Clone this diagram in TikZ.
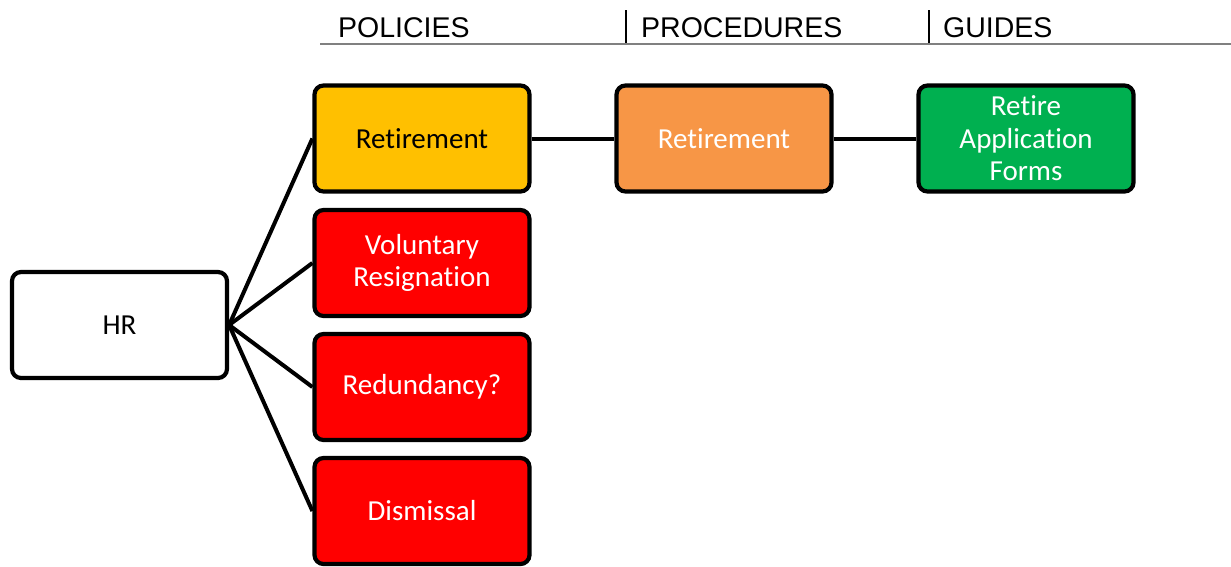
\documentclass[tikz,border=0pt]{standalone}
\usepackage{fontspec}
\setmainfont[Ligatures=CommonOff]{Carlito}
\newfontfamily\hdrfont{Liberation Sans}
\definecolor{gold}{HTML}{FFC000}
\definecolor{redbox}{HTML}{FF0000}
\definecolor{orangebox}{HTML}{F79646}
\definecolor{greenbox}{HTML}{00B050}
\definecolor{rulegray}{HTML}{808080}
\begin{document}
\begin{tikzpicture}[x=1pt,y=-1pt,
  box/.style={draw=black, line width=4.2pt, rounded corners=9pt, minimum width=215pt, minimum height=106pt,
    inner sep=0pt, align=center, font=\fontsize{29pt}{32.5pt}\selectfont},
  hdr/.style={anchor=base west, inner sep=0pt, font=\hdrfont\fontsize{28.5pt}{30pt}\selectfont},
  link/.style={line width=4pt}]
\useasboundingbox (0,0) rectangle (1231,566);
% header
\coordinate (hl) at (320,44);
\coordinate (hr) at (1231,44);
\draw[rulegray, line width=2pt] (hl) -- (hr);
\coordinate (s1a) at (626,10); \coordinate (s1b) at (626,43);
\coordinate (s2a) at (929,10); \coordinate (s2b) at (929,43);
\draw[line width=1.6pt] (s1a) -- (s1b);
\draw[line width=1.6pt] (s2a) -- (s2b);
\node[hdr] (hpol) at (338,37) {POLICIES};
\node[hdr] (hpro) at (641,37) {PROCEDURES};
\node[hdr] (hgui) at (943,37) {GUIDES};
% boxes
\node[box, fill=white] (hrbox) at (119.5,325) {HR};
\node[box, fill=gold] (ret) at (422,138.5) {Retirement};
\node[box, fill=redbox, text=white] (vol) at (422,263) {Voluntary\\Resignation};
\node[box, fill=redbox, text=white] (red) at (422,387) {Redundancy?};
\node[box, fill=redbox, text=white] (dis) at (422,511) {Dismissal};
\node[box, fill=orangebox, text=white] (pret) at (724,138.5) {Retirement};
\node[box, fill=greenbox, text=white] (gret) at (1026,138.5) {Retire\\Application\\Forms};
% connectors
\draw[link] (hrbox.east) -- (ret.west);
\draw[link] (hrbox.east) -- (vol.west);
\draw[link] (hrbox.east) -- (red.west);
\draw[link] (hrbox.east) -- (dis.west);
\draw[link] (ret.east) -- (pret.west);
\draw[link] (pret.east) -- (gret.west);
\end{tikzpicture}
\end{document}
